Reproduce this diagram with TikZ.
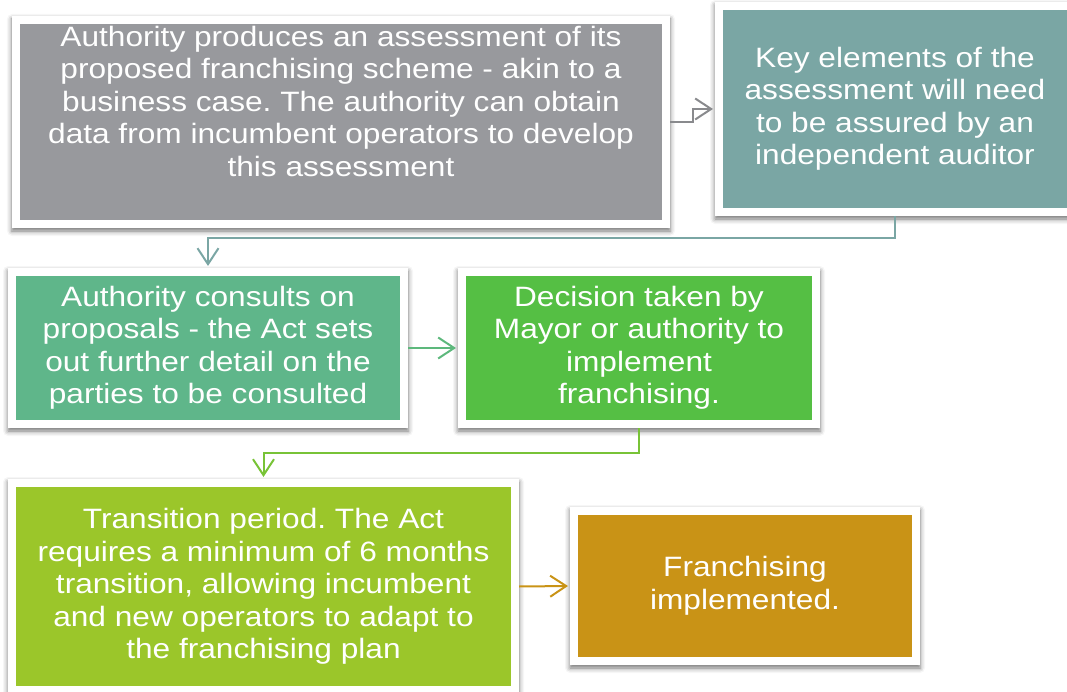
\documentclass[tikz,border=0pt]{standalone}
\usepackage{fontspec}
\setmainfont{Liberation Sans}[FakeStretch=1.13]
\frenchspacing
\usetikzlibrary{arrows.meta}
\usetikzlibrary{shadows.blur}
\definecolor{assessgray}{HTML}{98999D}
\definecolor{auditteal}{HTML}{7AA6A4}
\definecolor{consultmint}{HTML}{5FB68A}
\definecolor{decidegreen}{HTML}{55BF44}
\definecolor{transitlime}{HTML}{9BC62A}
\definecolor{doneochre}{HTML}{C99316}

\begin{document}
\begin{tikzpicture}[x=1pt,y=-1pt,every node/.style={inner sep=0pt,outer sep=0pt,align=center,text=white,font=\fontsize{28}{32.5}\selectfont},
    card/.style={fill=white,blur shadow={shadow xshift=0pt,shadow yshift=-3pt,shadow blur radius=5pt,shadow opacity=55},
        path picture={\fill[#1] ([shift={(8pt,8pt)}]path picture bounding box.south west) rectangle ([shift={(-8pt,-8pt)}]path picture bounding box.north east);}},
    flow/.style={draw=#1,line width=2pt,-{Straight Barb[length=16pt,width=21pt]},shorten >=2pt}]
    \useasboundingbox (0,0) rectangle (1067,692);
    \node[card=assessgray,minimum width=658pt,minimum height=212pt,text depth=42pt] (assess) at (341,122)
        {Authority produces an assessment of its\\proposed franchising scheme - akin to a\\business case. The authority can obtain\\data from incumbent operators to develop\\this assessment};
    \node[card=auditteal,minimum width=360pt,minimum height=214pt] (audit) at (895,109)
        {Key elements of the\\assessment will need\\to be assured by an\\independent auditor};
    \node[card=consultmint,minimum width=400pt,minimum height=160pt] (consult) at (208,348)
        {Authority consults on\\proposals - the Act sets\\out further detail on the\\parties to be consulted};
    \node[card=decidegreen,minimum width=362pt,minimum height=160pt] (decide) at (639,348)
        {Decision taken by\\Mayor or authority to\\implement\\franchising.};
    \node[card=transitlime,minimum width=511pt,minimum height=215pt] (transit) at (263.5,586.5)
        {Transition period. The Act\\requires a minimum of 6 months\\transition, allowing incumbent\\and new operators to adapt to\\the franchising plan};
    \node[card=doneochre,minimum width=350pt,minimum height=158pt] (done) at (745,586)
        {Franchising\\implemented.};
    % connectors
    \draw[flow=assessgray!90!black] (assess.east) -- ++(23,0) |- (audit.west);
    \draw[flow=auditteal] (audit.south) -- ++(0,22) -| (consult.north);
    \draw[flow=consultmint!80!decidegreen] (consult.east) -- (decide.west);
    \draw[flow=decidegreen!50!transitlime] (decide.south) -- ++(0,25) -| (transit.north);
    \draw[flow=doneochre] (transit.east) -- (done.west);
\end{tikzpicture}
\end{document}
